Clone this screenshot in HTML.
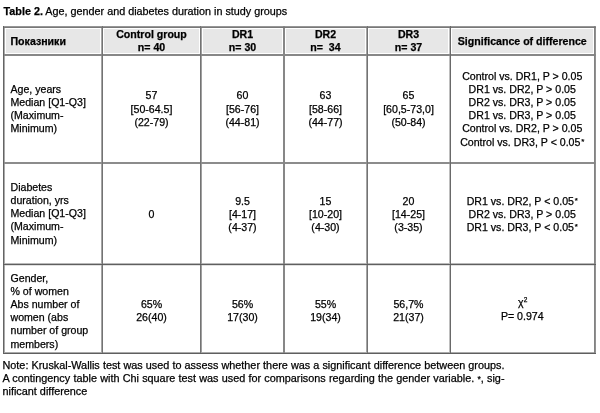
<!DOCTYPE html>
<html><head><meta charset="utf-8"><style>
html,body{margin:0;padding:0;background:#fff;}
body{width:600px;height:413px;position:relative;overflow:hidden;font-family:"Liberation Sans",sans-serif;color:#000;}
.t{position:absolute;white-space:nowrap;-webkit-text-stroke:0.25px #000;}
#wrap{position:absolute;left:0;top:0;width:600px;height:413px;will-change:transform;}
.ln{position:absolute;mix-blend-mode:darken;}
sup{font-size:75%;line-height:0;vertical-align:0;position:relative;top:-0.2em;margin-left:0.8px;}
</style></head><body>
<div id="wrap">
<div style="position:absolute;left:6px;top:29px;width:587px;height:24px;background:#e7e7e7"></div>
<div style="position:absolute;left:100px;top:29px;width:4px;height:24px;background:#fff"></div>
<div style="position:absolute;left:199px;top:29px;width:4px;height:24px;background:#fff"></div>
<div style="position:absolute;left:282px;top:29px;width:4px;height:24px;background:#fff"></div>
<div style="position:absolute;left:365px;top:29px;width:4px;height:24px;background:#fff"></div>
<div style="position:absolute;left:448px;top:29px;width:4px;height:24px;background:#fff"></div>
<div class="ln" style="left:3px;top:26px;width:593px;height:1px;background:rgb(150,150,150)"></div>
<div class="ln" style="left:3px;top:27px;width:593px;height:1px;background:rgb(120,120,120)"></div>
<div class="ln" style="left:3px;top:54px;width:593px;height:1px;background:rgb(135,135,135)"></div>
<div class="ln" style="left:3px;top:55px;width:593px;height:1px;background:rgb(135,135,135)"></div>
<div class="ln" style="left:3px;top:162px;width:593px;height:1px;background:rgb(140,140,140)"></div>
<div class="ln" style="left:3px;top:163px;width:593px;height:1px;background:rgb(140,140,140)"></div>
<div class="ln" style="left:3px;top:263px;width:593px;height:1px;background:rgb(185,185,185)"></div>
<div class="ln" style="left:3px;top:264px;width:593px;height:1px;background:rgb(95,95,95)"></div>
<div class="ln" style="left:3px;top:265px;width:593px;height:1px;background:rgb(225,225,225)"></div>
<div class="ln" style="left:3px;top:352px;width:593px;height:1px;background:rgb(170,170,170)"></div>
<div class="ln" style="left:3px;top:353px;width:593px;height:1px;background:rgb(95,95,95)"></div>
<div class="ln" style="left:3px;top:26px;width:1px;height:328px;background:rgb(100,100,100)"></div>
<div class="ln" style="left:4px;top:26px;width:1px;height:328px;background:rgb(170,170,170)"></div>
<div class="ln" style="left:101px;top:26px;width:1px;height:328px;background:rgb(165,165,165)"></div>
<div class="ln" style="left:102px;top:26px;width:1px;height:328px;background:rgb(115,115,115)"></div>
<div class="ln" style="left:200px;top:26px;width:1px;height:328px;background:rgb(115,115,115)"></div>
<div class="ln" style="left:201px;top:26px;width:1px;height:328px;background:rgb(160,160,160)"></div>
<div class="ln" style="left:283px;top:26px;width:1px;height:328px;background:rgb(135,135,135)"></div>
<div class="ln" style="left:284px;top:26px;width:1px;height:328px;background:rgb(135,135,135)"></div>
<div class="ln" style="left:366px;top:26px;width:1px;height:328px;background:rgb(165,165,165)"></div>
<div class="ln" style="left:367px;top:26px;width:1px;height:328px;background:rgb(115,115,115)"></div>
<div class="ln" style="left:449px;top:26px;width:1px;height:328px;background:rgb(190,190,190)"></div>
<div class="ln" style="left:450px;top:26px;width:1px;height:328px;background:rgb(105,105,105)"></div>
<div class="ln" style="left:594px;top:26px;width:1px;height:328px;background:rgb(130,130,130)"></div>
<div class="ln" style="left:595px;top:26px;width:1px;height:328px;background:rgb(145,145,145)"></div>
<div class="t" style="left:3.5px;top:4.56px;font-size:10.8px;line-height:13px;white-space:nowrap"><b>Table 2.</b> Age, gender and diabetes duration in study groups</div>
<div class="t" style="left:10.5px;top:34.95px;width:89.5px;text-align:left;font-size:10.6px;line-height:13.15px;font-weight:bold;">Показники</div>
<div class="t" style="left:102px;top:28.08px;width:99px;text-align:center;font-size:10.6px;line-height:12.5px;font-weight:bold;">Control group<br>n= 40</div>
<div class="t" style="left:201px;top:28.08px;width:83px;text-align:center;font-size:10.6px;line-height:12.5px;font-weight:bold;">DR1<br>n= 30</div>
<div class="t" style="left:284px;top:28.08px;width:83px;text-align:center;font-size:10.6px;line-height:12.5px;font-weight:bold;">DR2<br>n=&nbsp; 34</div>
<div class="t" style="left:367px;top:28.08px;width:83px;text-align:center;font-size:10.6px;line-height:12.5px;font-weight:bold;">DR3<br>n= 37</div>
<div class="t" style="left:450px;top:34.75px;width:144.5px;text-align:center;font-size:10.6px;line-height:13.15px;font-weight:bold;">Significance of difference</div>
<div class="t" style="left:10.5px;top:82.75px;width:90.5px;text-align:left;font-size:10.6px;line-height:13.15px;">Age, years<br>Median [Q1-Q3]<br>(Maximum-<br>Minimum)</div>
<div class="t" style="left:102px;top:89.45px;width:99px;text-align:center;font-size:10.6px;line-height:13.15px;">57<br>[50-64.5]<br>(22-79)</div>
<div class="t" style="left:201px;top:89.45px;width:83px;text-align:center;font-size:10.6px;line-height:13.15px;">60<br>[56-76]<br>(44-81)</div>
<div class="t" style="left:284px;top:89.45px;width:83px;text-align:center;font-size:10.6px;line-height:13.15px;">63<br>[58-66]<br>(44-77)</div>
<div class="t" style="left:367px;top:89.45px;width:83px;text-align:center;font-size:10.6px;line-height:13.15px;">65<br>[60,5-73,0]<br>(50-84)</div>
<div class="t" style="left:450px;top:69.75px;width:144.5px;text-align:center;font-size:10.6px;line-height:13.15px;">Control vs. DR1, P &gt; 0.05<br>DR1 vs. DR2, P &gt; 0.05<br>DR2 vs. DR3, P &gt; 0.05<br>DR1 vs. DR3, P &gt; 0.05<br>Control vs. DR2, P &gt; 0.05<br>Control vs. DR3, P &lt; 0.05<sup>*</sup></div>
<div class="t" style="left:10.5px;top:180.95px;width:90.5px;text-align:left;font-size:10.6px;line-height:13.15px;">Diabetes<br>duration, yrs<br>Median [Q1-Q3]<br>(Maximum-<br>Minimum)</div>
<div class="t" style="left:102px;top:208.05px;width:99px;text-align:center;font-size:10.6px;line-height:13.15px;">0</div>
<div class="t" style="left:201px;top:194.55px;width:83px;text-align:center;font-size:10.6px;line-height:13.15px;">9.5<br>[4-17]<br>(4-37)</div>
<div class="t" style="left:284px;top:194.55px;width:83px;text-align:center;font-size:10.6px;line-height:13.15px;">15<br>[10-20]<br>(4-30)</div>
<div class="t" style="left:367px;top:194.55px;width:83px;text-align:center;font-size:10.6px;line-height:13.15px;">20<br>[14-25]<br>(3-35)</div>
<div class="t" style="left:450px;top:194.55px;width:144.5px;text-align:center;font-size:10.6px;line-height:13.15px;">DR1 vs. DR2, P &lt; 0.05<sup>*</sup><br>DR2 vs. DR3, P &gt; 0.05<br>DR1 vs. DR3, P &lt; 0.05<sup>*</sup></div>
<div class="t" style="left:10.5px;top:271.75px;width:90.5px;text-align:left;font-size:10.6px;line-height:13.15px;">Gender,<br>% of women<br>Abs number of<br>women (abs<br>number of group<br>members)</div>
<div class="t" style="left:102px;top:297.65px;width:99px;text-align:center;font-size:10.6px;line-height:13.15px;">65%<br>26(40)</div>
<div class="t" style="left:201px;top:297.65px;width:83px;text-align:center;font-size:10.6px;line-height:13.15px;">56%<br>17(30)</div>
<div class="t" style="left:284px;top:297.65px;width:83px;text-align:center;font-size:10.6px;line-height:13.15px;">55%<br>19(34)</div>
<div class="t" style="left:367px;top:297.65px;width:83px;text-align:center;font-size:10.6px;line-height:13.15px;">56,7%<br>21(37)</div>
<div class="t" style="left:450px;top:296.35px;width:145.5px;text-align:center;font-size:10.6px;line-height:13.15px;">χ<span style="font-size:62%;position:relative;top:-0.62em;margin-left:0.2px">2</span></div>
<div class="t" style="left:450px;top:310.15px;width:144.5px;text-align:center;font-size:10.6px;line-height:13.15px;">P= 0.974</div>
<div class="t" style="left:2.5px;top:359.44px;width:502px;font-size:10.85px;line-height:13px;text-align:justify;text-align-last:justify;white-space:normal">Note: Kruskal-Wallis test was used to assess whether there was a significant difference between groups.</div>
<div class="t" style="left:2.5px;top:372.44px;width:502px;font-size:10.85px;line-height:13px;text-align:justify;text-align-last:justify;white-space:normal">A contingency table with Chi square test was used for comparisons regarding the gender variable. <span style="font-size:80%;position:relative;top:-0.1em">*</span>, sig-</div>
<div class="t" style="left:2.5px;top:385.44px;font-size:10.85px;line-height:13px;">nificant difference</div>
</div>
</body></html>
